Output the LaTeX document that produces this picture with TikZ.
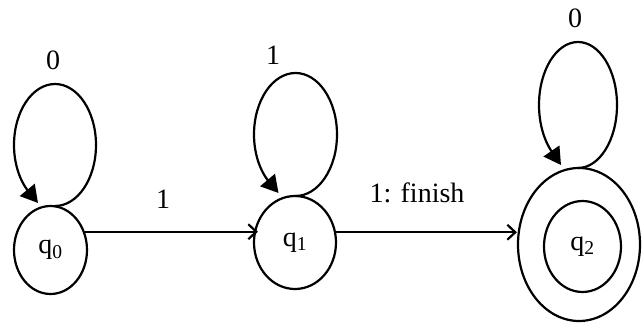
\documentclass[tikz,border=0pt]{standalone}
\usepackage{fontspec}
\setmainfont{Liberation Serif}
\usetikzlibrary{shapes.geometric,arrows.meta}
\begin{document}
\begin{tikzpicture}[x=1pt,y=1pt,line width=2.2pt,
  state/.style={draw,ellipse,inner sep=0pt,font=\fontsize{28}{30}\selectfont},
  lbl/.style={font=\fontsize{28}{30}\selectfont,inner sep=0pt},
  edge/.style={-{Straight Barb[length=8pt,width=15pt]}},
  loophead/.style={-{Triangle[length=17pt,width=19pt]}}]
\useasboundingbox (0,0) rectangle (642,324);
% states
\node[state,minimum width=73pt,minimum height=88pt] (q0) at (50.5,74) {q\textsubscript{0}};
\node[state,minimum width=82pt,minimum height=93pt] (q1) at (295,81.5) {q\textsubscript{1}};
\node[state,minimum width=122pt,minimum height=153pt] (q2) at (579,79.5) {};
\node[state,minimum width=77pt,minimum height=91pt] (q2in) at (582.5,77.5) {q\textsubscript{2}};
% loop centres
\coordinate (l0) at (55,179);
\coordinate (l1) at (295.5,189.5);
\coordinate (l2) at (578,219);
% loops
\draw (l0) ++(-90:41 and 61) arc[start angle=-90,end angle=236,x radius=41,y radius=61];
\draw[loophead] (l0) ++(234:41 and 61) -- ([shift={(-17,-58)}]l0);
\draw (l1) ++(-90:41.5 and 61.5) arc[start angle=-90,end angle=236,x radius=41.5,y radius=61.5];
\draw[loophead] (l1) ++(234:41.5 and 61.5) -- ([shift={(-17,-58.5)}]l1);
\draw (l2) ++(-90:39 and 63) arc[start angle=-90,end angle=232,x radius=39,y radius=63];
\draw[loophead] (l2) ++(230:39 and 63) -- ([shift={(-17,-60)}]l2);
% loop labels
\node[lbl] (a0) at (53,264) {0};
\node[lbl] (a1) at (273,269) {1};
\node[lbl] (a2) at (575,306) {0};
% edges
\draw[edge,shorten >=-5pt] (q0.28) -- (q0.28 -| q1.west);
\draw[edge] (q1.14) -- (q1.14 -| q2.west);
\node[lbl] (e1) at (163,125) {1};
\node[lbl] (e2) at (417,131) {1: finish};
\end{tikzpicture}
\end{document}
